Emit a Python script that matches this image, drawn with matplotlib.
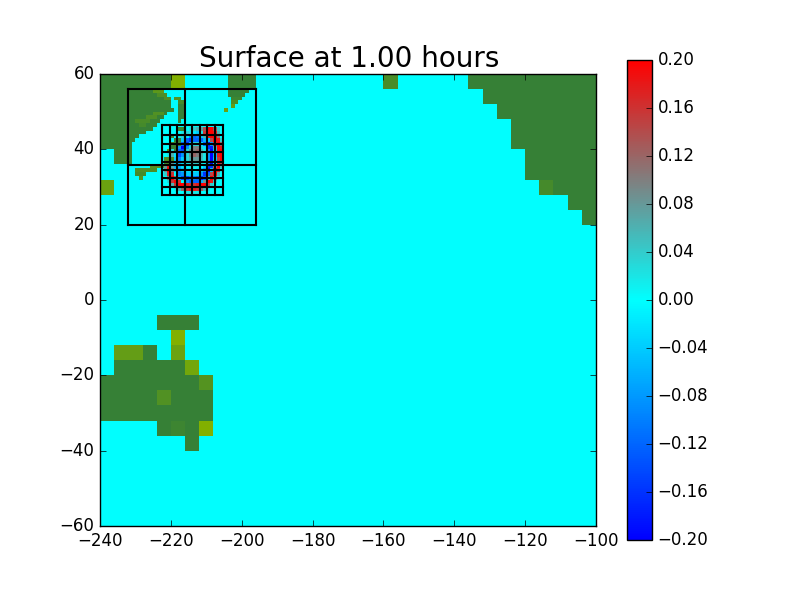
import numpy as np
import matplotlib
matplotlib.use("Agg")
import matplotlib.pyplot as plt
from matplotlib.colors import LinearSegmentedColormap
from matplotlib.ticker import FuncFormatter

# coarse land, 4 degree rows: south edge of the row, then (west, east, level)
coarse_land = {
    56: [(-240, -220, 0.0), (-220, -216, 1.0), (-204, -196, 0.0), (-160, -156, 0.25), (-136, -100, 0.0)],
    52: [(-240, -232, 0.0), (-132, -100, 0.0)],
    48: [(-240, -232, 0.0), (-128, -100, 0.0)],
    44: [(-240, -232, 0.0), (-124, -100, 0.0)],
    40: [(-240, -232, 0.0), (-124, -100, 0.0)],
    36: [(-236, -232, 0.0), (-120, -100, 0.0)],
    32: [(-120, -100, 0.0)],
    28: [(-240, -236, 0.7), (-116, -112, 0.2), (-112, -100, 0.0)],
    24: [(-108, -100, 0.0)],
    20: [(-104, -100, 0.0)],
    -8: [(-224, -212, 0.0)],
    -12: [(-220, -216, 1.0)],
    -16: [(-236, -228, 0.6), (-228, -224, 0.0), (-220, -216, 0.7)],
    -20: [(-236, -216, 0.0), (-216, -212, 0.8)],
    -24: [(-240, -212, 0.0), (-212, -208, 0.4)],
    -28: [(-240, -224, 0.0), (-224, -220, 0.35), (-220, -208, 0.0)],
    -32: [(-240, -208, 0.0)],
    -36: [(-224, -220, 0.0), (-220, -216, 0.1), (-216, -212, 0.0), (-212, -208, 1.0)],
    -40: [(-216, -212, 0.0)],
}

# finer land, 1 degree rows inside the level 2 patches
fine_land = {
    55: [(-232, -225, 0.0), (-225, -222, 0.5), (-204, -198, 0.0)],
    54: [(-232, -224, 0.0), (-224, -221, 0.3), (-204, -199, 0.0)],
    53: [(-232, -222, 0.0), (-222, -220, 0.3), (-219, -217, 0.4), (-203, -200, 0.1)],
    52: [(-232, -220, 0.0), (-218, -216, 0.2), (-203, -201, 0.3)],
    51: [(-232, -220, 0.0), (-218, -216, 0.0), (-203, -202, 0.6)],
    50: [(-232, -219, 0.0), (-218, -216, 0.0), (-205, -204, 0.7)],
    49: [(-232, -225, 0.0), (-225, -222, 0.35), (-222, -221, 0.0), (-218, -216, 0.0)],
    48: [(-232, -227, 0.0), (-227, -224, 0.3), (-224, -222, 0.0), (-218, -216, 0.0)],
    47: [(-232, -230, 0.0), (-230, -226, 0.25), (-226, -223, 0.0), (-218, -217, 0.0)],
    46: [(-232, -229, 0.0), (-229, -227, 0.2), (-227, -224, 0.0)],
    45: [(-232, -225, 0.0), (-218, -216, 0.1)],
    44: [(-232, -227, 0.0)],
    43: [(-232, -229, 0.0), (-220, -219, 0.2)],
    42: [(-232, -230, 0.0), (-219, -217, 0.0)],
    41: [(-232, -231, 0.0), (-220, -217, 0.1)],
    40: [(-232, -231, 0.0), (-220, -218, 0.0)],
    39: [(-232, -231, 0.0), (-221, -220, 0.4), (-219, -218, 0.0)],
    38: [(-232, -231, 0.0)],
    37: [(-232, -231, 0.0), (-222, -219, 0.3)],
    36: [(-232, -231, 0.0), (-222, -220, 0.2)],
    35: [(-226, -222, 0.4)],
    34: [(-230, -224, 0.3)],
    33: [(-230, -227, 0.2)],
    32: [(-229, -228, 0.4)],
}

# surface height in hundredths of a metre, north to south, 1 degree cells
eta_west = -222
eta_north = 46
eta_rows = [
    [0, 0, 0, 0, 0, 0, 0, 2, 4, 6, 8, 14, 20, 20, 14, 4, 0],
    [0, 0, 0, 0, 0, 2, 3, 2, -2, -4, 2, 16, 20, 20, 18, 6, 0],
    [0, 0, 0, 0, 2, 3, -2, -8, -12, -10, -4, 6, 18, 20, 20, 10, 0],
    [0, 0, 0, 2, 3, -4, -12, -16, -12, -12, -12, -6, -4, 14, 20, 18, 4],
    [0, 0, 0, 3, -4, -12, -16, -4, 3, 3, -2, -12, -18, -8, 16, 20, 12],
    [0, 0, 2, 4, -8, -20, -8, 3, 10, 10, 3, -2, -16, -18, 6, 20, 18],
    [0, 0, 3, 4, -12, -14, 3, 8, 10, 12, 6, 2, -10, -20, -4, 20, 20],
    [0, 2, 6, -2, -14, -8, 3, 8, 12, 10, 6, 2, -8, -20, -6, 18, 20],
    [2, 6, 8, -4, -10, -4, 3, 6, 8, 8, 5, 2, -8, -20, -4, 16, 20],
    [4, 14, 8, -4, -6, -2, 2, 3, 4, 4, 2, 0, -10, -20, 0, 18, 14],
    [8, 18, 6, -6, -6, -2, -1, 2, 2, 2, 0, -4, -16, -16, 10, 20, 6],
    [8, 20, 10, -4, -8, -4, -2, -2, 0, -2, -4, -8, -20, -4, 20, 16, 2],
    [4, 18, 16, 0, -10, -8, -4, -4, -4, -4, -8, -16, -12, 14, 20, 6, 0],
    [0, 10, 20, 12, -6, -14, -14, -10, -10, -12, -16, -12, 6, 20, 12, 2, 0],
    [0, 3, 16, 20, 16, 0, -8, -12, -12, -12, -6, 8, 20, 18, 4, 0, 0],
    [0, 0, 6, 16, 20, 20, 18, 16, 16, 18, 20, 20, 14, 4, 0, 0, 0],
    [0, 0, 0, 2, 6, 12, 16, 18, 18, 16, 12, 6, 2, 0, 0, 0, 0],
    [0, 0, 0, 0, 0, 0, 2, 2, 2, 2, 0, 0, 0, 0, 0, 0, 0],
]

# patch outlines
outer_lons = [-232, -216, -196]
outer_lats = [20, 35.8, 56]
inner_lons = [-222.4, -220.2, -218.2, -216.0, -213.9, -211.8, -209.7, -207.4, -205.2]
inner_lats = [27.9, 29.9, 32.3, 34.5, 36.7, 39.2, 41.4, 43.8, 46.5]

plt.style.use("classic")
plt.rcParams["font.family"] = ["DejaVu Sans"]
plt.rcParams["font.size"] = 12

lon_edges = np.arange(-240, -99)
lat_edges = np.arange(-60, 61)

eta = np.zeros((120, 140))
for r, row in enumerate(eta_rows):
    for c, val in enumerate(row):
        eta[eta_north - 1 - r + 60, eta_west + c + 240] = val / 100.0

land = np.full((120, 140), np.nan)
for south, spans in coarse_land.items():
    for west, east, level in spans:
        land[south + 60:south + 64, west + 240:east + 240] = level
for south, spans in fine_land.items():
    for west, east, level in spans:
        land[south + 60, west + 240:east + 240] = level

surface_cmap = LinearSegmentedColormap.from_list("surface", ["#0000ff", "#00ffff", "#ff0000"])
land_cmap = LinearSegmentedColormap.from_list("land", ["#368036", "#82b000"])

fig = plt.figure(figsize=(8, 6), dpi=100)
ax = fig.add_axes([0.125, 0.1233, 0.62, 0.7533])
cax = fig.add_axes([0.784, 0.1, 0.031, 0.8])

mesh = ax.pcolormesh(lon_edges, lat_edges, eta, cmap=surface_cmap, vmin=-0.2, vmax=0.2)
ax.pcolormesh(lon_edges, lat_edges, np.ma.masked_invalid(land), cmap=land_cmap, vmin=0, vmax=1)

for lon in outer_lons:
    ax.plot([lon, lon], [outer_lats[0], outer_lats[-1]], "k-", lw=1.5)
for lat in outer_lats:
    ax.plot([outer_lons[0], outer_lons[-1]], [lat, lat], "k-", lw=1.5)
for lon in inner_lons:
    ax.plot([lon, lon], [inner_lats[0], inner_lats[-1]], "k-", lw=1.5)
for lat in inner_lats:
    ax.plot([inner_lons[0], inner_lons[-1]], [lat, lat], "k-", lw=1.5)

ax.set_xlim(-240, -100)
ax.set_ylim(-60, 60)
ax.set_xticks(np.arange(-240, -99, 20))
ax.set_yticks(np.arange(-60, 61, 20))
ax.tick_params(labelsize=12)
ax.set_title("Surface at 1.00 hours", fontsize=20, x=0.5015)

fmt = FuncFormatter(lambda v, pos: ("%.2f" % v).replace("-", "\u2212"))
cbar = fig.colorbar(mesh, cax=cax, ticks=np.arange(-0.20, 0.201, 0.04), format=fmt)
cbar.ax.tick_params(labelsize=12)

fig.savefig("out.png", dpi=100)
